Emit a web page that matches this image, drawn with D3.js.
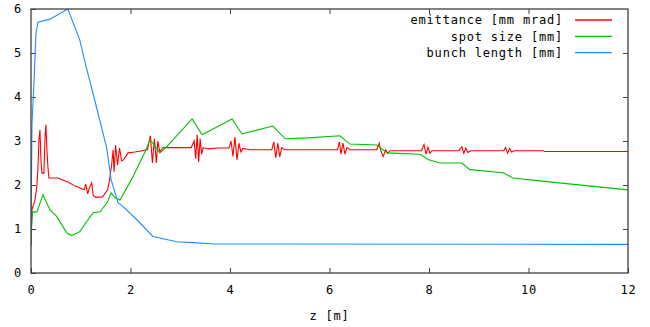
<html>
<head>
<meta charset="utf-8"/>
<style>
  body { margin: 0; background: #fff; }
  text { font-family: "DejaVu Sans Mono", monospace; font-size: 12px; letter-spacing: 0.8px; fill: #000; }
</style>
</head>
<body>
<svg></svg>
<script src="https://d3js.org/d3.v7.min.js"></script>
<script>
// series: [z (m), value]
var emittance = [
  [0, 0.6], [0.02, 1.44], [0.08, 1.66], [0.12, 2.0], [0.14, 2.41], [0.16, 3.03], [0.18, 3.25],
  [0.2, 2.57], [0.22, 2.27], [0.26, 2.27], [0.28, 3.03], [0.30, 3.37], [0.32, 2.8], [0.34, 2.41],
  [0.36, 2.16], [0.54, 2.16], [0.74, 2.07], [0.88, 1.98], [1.07, 1.89], [1.10, 2.02], [1.14, 1.80],
  [1.18, 1.95], [1.22, 2.05], [1.25, 1.76], [1.30, 1.72], [1.44, 1.73], [1.54, 1.89], [1.58, 2.12],
  [1.62, 2.45], [1.65, 2.80], [1.67, 2.30], [1.70, 2.91], [1.74, 2.45], [1.78, 2.84], [1.82, 2.55],
  [1.86, 2.57], [1.95, 2.73], [2.09, 2.75], [2.34, 2.80],
  [2.40, 3.12], [2.44, 2.50], [2.48, 3.05], [2.52, 2.50], [2.55, 3.0], [2.59, 2.75], [2.65, 2.85],
  [3.22, 2.85], [3.28, 3.0], [3.31, 2.6], [3.34, 3.14], [3.37, 2.52], [3.40, 3.05], [3.43, 2.7],
  [3.46, 2.85], [3.56, 2.82], [3.76, 2.84], [3.98, 2.84],
  [4.02, 3.0], [4.06, 2.65], [4.10, 3.09], [4.14, 2.57], [4.18, 2.95], [4.22, 2.75], [4.26, 2.83],
  [4.4, 2.80], [4.84, 2.80], [4.88, 2.98], [4.92, 2.62], [4.96, 2.95], [5.00, 2.64], [5.04, 2.85],
  [5.10, 2.80], [6.16, 2.80], [6.20, 2.98], [6.23, 2.7], [6.27, 2.95], [6.31, 2.7], [6.35, 2.85],
  [6.41, 2.80], [6.95, 2.80], [7.0, 2.95], [7.04, 2.75], [7.08, 2.65], [7.13, 2.80], [7.17, 2.72],
  [7.22, 2.78], [7.85, 2.78], [7.9, 2.92], [7.94, 2.70], [7.98, 2.86], [8.02, 2.72], [8.06, 2.78],
  [8.6, 2.78], [8.66, 2.87], [8.70, 2.72], [8.74, 2.84], [8.78, 2.74], [8.84, 2.78],
  [9.5, 2.78], [9.54, 2.85], [9.58, 2.72], [9.62, 2.83], [9.66, 2.75], [9.72, 2.78],
  [10.3, 2.78], [10.32, 2.76], [12, 2.76]
];
var spotSize = [
  [0, 0.65], [0.01, 1.05], [0.03, 1.39], [0.12, 1.39], [0.24, 1.78], [0.38, 1.44], [0.52, 1.28],
  [0.72, 0.91], [0.82, 0.85], [0.98, 0.94], [1.19, 1.28], [1.25, 1.37], [1.39, 1.39], [1.53, 1.60],
  [1.61, 1.82], [1.69, 1.71], [1.79, 1.66], [2.05, 2.19], [2.29, 2.75], [2.39, 3.02], [2.45, 2.95],
  [2.59, 2.73], [2.73, 2.87], [3.24, 3.50], [3.44, 3.14], [4.04, 3.50], [4.24, 3.16], [4.86, 3.34],
  [5.11, 3.05], [5.57, 3.07], [6.21, 3.12], [6.41, 2.93], [6.95, 2.91], [7.16, 2.73], [7.82, 2.70],
  [7.98, 2.58], [8.22, 2.50], [8.66, 2.50], [8.82, 2.35], [9.49, 2.28], [9.69, 2.16], [10.17, 2.10],
  [12, 1.89]
];
var bunchLength = [
  [0, 1.0], [0.02, 3.4], [0.06, 4.32], [0.10, 5.46], [0.14, 5.70], [0.38, 5.77], [0.74, 6.0],
  [0.98, 5.30], [1.09, 4.77], [1.33, 3.71], [1.52, 2.85], [1.57, 2.45], [1.61, 2.12], [1.75, 1.60],
  [1.85, 1.51], [2.13, 1.21], [2.45, 0.83], [2.93, 0.71], [3.26, 0.69], [3.70, 0.66], [12, 0.65]
];
var seriesNames = ["emittance [mm mrad]", "spot size [mm]", "bunch length [mm]"];
var seriesColors = ["#ff0000", "#00c000", "#1e8cff"];
var xTicks = [0, 2, 4, 6, 8, 10, 12];
var yTicks = [0, 1, 2, 3, 4, 5, 6];

var W = 650, H = 327;
var margin = {top: 9, right: 22, bottom: 54, left: 31};
var width = W - margin.left - margin.right;
var height = H - margin.top - margin.bottom;

var svg = d3.select("svg").attr("width", W).attr("height", H);
var chart = svg.append("g")
  .attr("transform", "translate(" + margin.left + "," + margin.top + ")");

var x = d3.scaleLinear().domain([0, 12]).range([0, width]);
var y = d3.scaleLinear().domain([0, 6]).range([height, 0]);

chart.append("defs").append("clipPath").attr("id", "clip")
  .append("rect").attr("width", width).attr("height", height);

var line = d3.line()
  .x(function(d) { return x(d[0]); })
  .y(function(d) { return y(d[1]); });

// inward ticks on all four sides, labels only bottom/left
function axisStyle(g) {
  g.select(".domain").remove();
  g.selectAll(".tick line").attr("stroke", "#404040");
}
chart.append("g").attr("transform", "translate(0," + height + ")")
  .call(d3.axisBottom(x).tickValues(xTicks).tickFormat(d3.format("d"))
    .tickSizeInner(-5).tickSizeOuter(0).tickPadding(12))
  .call(axisStyle)
  .selectAll("text").attr("font-family", null).attr("font-size", null);
chart.append("g")
  .call(d3.axisLeft(y).tickValues(yTicks).tickFormat(d3.format("d"))
    .tickSizeInner(-5).tickSizeOuter(0).tickPadding(9))
  .call(axisStyle)
  .selectAll("text").attr("font-family", null).attr("font-size", null);
chart.append("g")
  .call(d3.axisTop(x).tickValues(xTicks.slice(1, -1)).tickSizeInner(-5).tickSizeOuter(0).tickFormat(""))
  .call(axisStyle);
chart.append("g").attr("transform", "translate(" + width + ",0)")
  .call(d3.axisRight(y).tickValues(yTicks.slice(1, -1)).tickSizeInner(-5).tickSizeOuter(0).tickFormat(""))
  .call(axisStyle);

var plot = chart.append("g").attr("clip-path", "url(#clip)");
[emittance, spotSize, bunchLength].forEach(function(s, i) {
  plot.append("path").datum(s)
    .attr("fill", "none")
    .attr("stroke", seriesColors[i])
    .attr("stroke-width", 1.1)
    .attr("d", line);
});

chart.append("rect")
  .attr("width", width).attr("height", height)
  .attr("fill", "none").attr("stroke", "#404040").attr("stroke-width", 1.3);

// legend
var legend = chart.append("g").attr("transform", "translate(" + (width - 65) + ",11)");
seriesNames.forEach(function(n, i) {
  var row = legend.append("g").attr("transform", "translate(0," + (i * 16.3) + ")");
  row.append("text").attr("x", 0).attr("dy", "0.35em").attr("text-anchor", "end").text(n);
  row.append("line").attr("x1", 12).attr("x2", 49)
    .attr("stroke", seriesColors[i]).attr("stroke-width", 1.3);
});

svg.append("text")
  .attr("x", margin.left + x(6))
  .attr("y", 320)
  .attr("text-anchor", "middle")
  .text("z [m]");
</script>
</body>
</html>
